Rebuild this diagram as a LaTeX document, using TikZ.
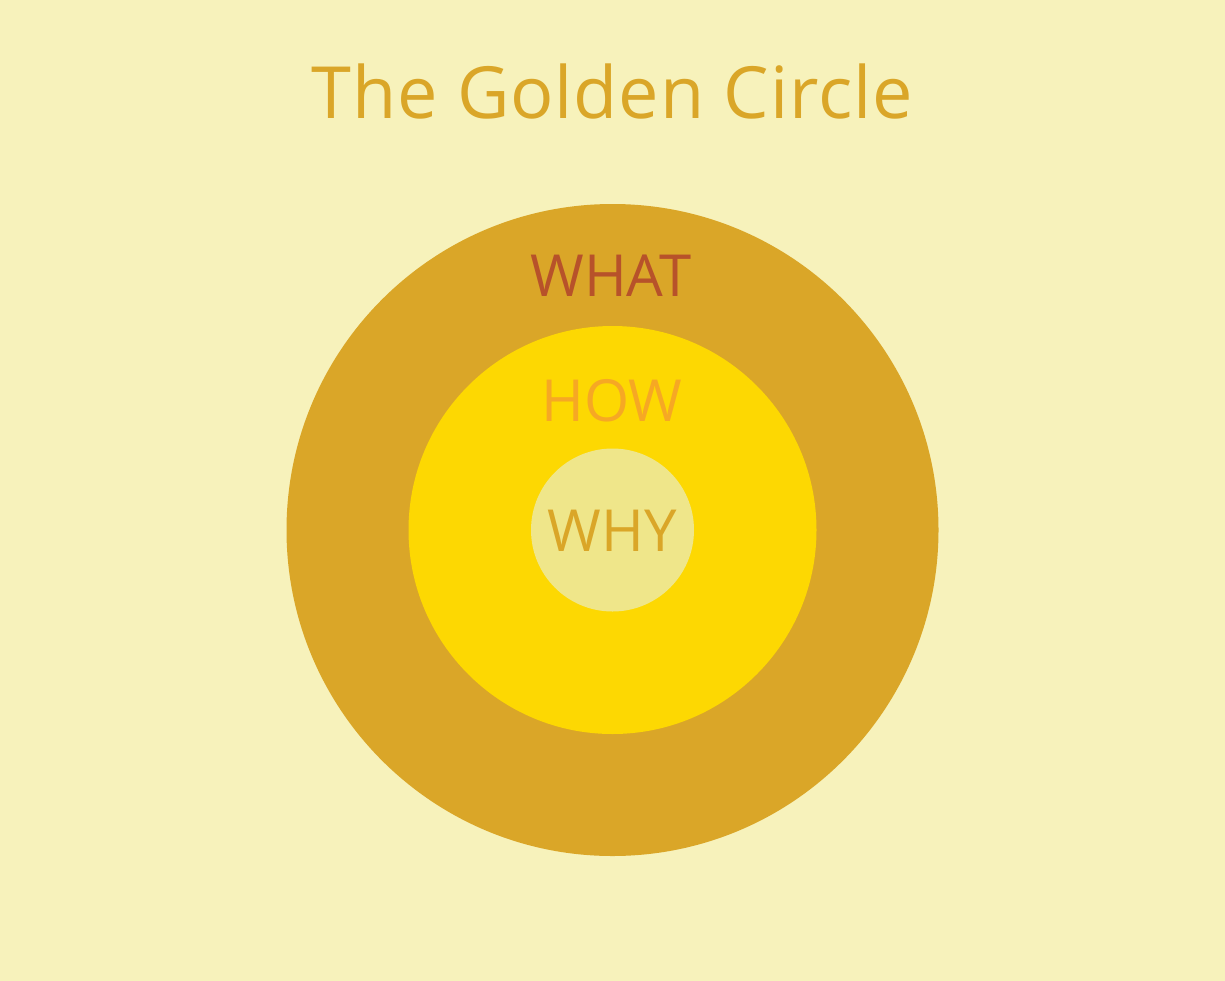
\documentclass[tikz,border=0pt]{standalone}
\usepackage{fontspec}
\setmainfont{Open Sans}
\newfontfamily\titlefont[LetterSpace=1.2]{Open Sans}
\definecolor{bg}{HTML}{F7F2BB}
\definecolor{outerc}{HTML}{DAA628}
\definecolor{midc}{HTML}{FDD802}
\definecolor{innerc}{HTML}{EFE68A}
\definecolor{titlec}{HTML}{DAA628}
\definecolor{whatc}{HTML}{B7522A}
\definecolor{howc}{HTML}{F6A824}
\definecolor{whyc}{HTML}{DAA628}
\tikzset{
  ring/.style={circle, inner sep=0pt, minimum size=#1},
  lbl/.style={anchor=base, inner sep=0pt, font=\fontsize{58}{60}\selectfont},
}
\begin{document}
\begin{tikzpicture}[x=1pt,y=-1pt]
\useasboundingbox (0,0) rectangle (1225,980);
\fill[bg] (-3,-3) rectangle (1228,983);
\node[ring=652pt, fill=outerc] (outer) at (612.5,530) {};
\node[ring=408pt, fill=midc] (mid) at (612.5,530) {};
\node[ring=163pt, fill=innerc] (inner) at (612.5,530) {};
\node[anchor=base, inner sep=0pt, text=titlec, font=\titlefont\fontsize{72}{80}\selectfont] (title) at (612,118) {The Golden Circle};
\node[lbl, text=whatc] (what) at (611,296) {WHAT};
\node[lbl, text=howc] (how) at (612,421) {HOW};
\node[lbl, text=whyc] (why) at (612,551) {WHY};
\end{tikzpicture}
\end{document}
